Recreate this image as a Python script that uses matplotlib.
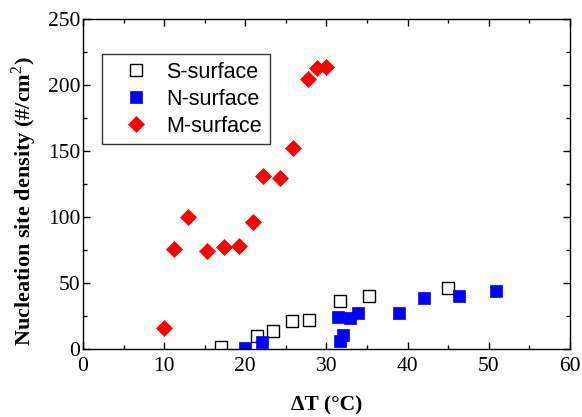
import numpy as np
import matplotlib.pyplot as plt

# S-surface
s_dt = [17.0, 21.5, 23.4, 25.8, 27.9, 31.7, 35.3, 45.0]
s_n = [1.7, 9.8, 13.9, 21.2, 22.0, 36.4, 40.2, 46.0]
# N-surface
n_dt = [19.95, 22.1, 31.65, 32.0, 31.4, 32.9, 33.9, 39.0, 42.0, 46.3, 50.9]
n_n = [1.0, 5.0, 6.3, 10.8, 24.2, 23.3, 27.0, 27.3, 39.0, 40.0, 44.0]
# M-surface
m_dt = [10.0, 11.2, 12.9, 15.3, 17.4, 19.2, 20.9, 22.2, 24.3, 25.9, 27.7, 28.9, 30.0]
m_n = [15.9, 75.8, 100.0, 74.2, 77.0, 78.0, 96.0, 131.0, 130.0, 152.0, 204.5, 213.0, 214.0]

serif = 'Liberation Serif'
sans = 'Liberation Sans'
plt.rcParams['mathtext.fontset'] = 'custom'
plt.rcParams['mathtext.rm'] = serif
plt.rcParams['mathtext.bf'] = serif + ':bold'

fig = plt.figure(figsize=(5.82, 4.17), dpi=100)
ax = fig.add_axes([0.1426, 0.163, 0.8364, 0.791])

ax.plot(s_dt, s_n, linestyle='none', marker='s', markersize=8.5,
        markerfacecolor='white', markeredgecolor='black', markeredgewidth=1.0,
        label='S-surface')
ax.plot(n_dt, n_n, linestyle='none', marker='s', markersize=8.5,
        markerfacecolor='blue', markeredgecolor='blue', markeredgewidth=0.5,
        label='N-surface')
ax.plot(m_dt, m_n, linestyle='none', marker='D', markersize=8,
        markerfacecolor='red', markeredgecolor='red', markeredgewidth=0.5,
        label='M-surface')

ax.set_xlim(0, 60)
ax.set_ylim(0, 250)
ax.set_xticks(np.arange(0, 61, 10))
ax.set_yticks(np.arange(0, 251, 50))
ax.set_xticks(np.arange(5, 60, 10), minor=True)
ax.set_yticks(np.arange(25, 250, 50), minor=True)
ax.tick_params(which='both', direction='in', top=True, right=True, width=1)
ax.tick_params(which='major', length=5, labelsize=15.5)
ax.tick_params(axis='x', which='major', pad=6)
ax.tick_params(axis='y', which='major', pad=2)
ax.tick_params(which='minor', length=3)
for lab in ax.get_xticklabels() + ax.get_yticklabels():
    lab.set_fontfamily(serif)
for sp in ax.spines.values():
    sp.set_linewidth(1.0)

ax.set_xlabel('ΔT (°C)', fontfamily=serif, fontweight='bold', fontsize=15.5, labelpad=14)
ax.set_ylabel('Nucleation site density (#/cm$^2$)', fontfamily=serif,
              fontweight='bold', fontsize=16)
ax.yaxis.set_label_coords(-0.09, 0.448)

leg = ax.legend(loc='upper left', bbox_to_anchor=(0.04, 0.893), frameon=True,
                fancybox=False, edgecolor='black', prop={'family': sans, 'size': 15.5},
                handletextpad=0.16, borderpad=0.35, labelspacing=0.27, handlelength=2.46,
                borderaxespad=0)
leg.get_frame().set_linewidth(1.0)

fig.savefig('out.png', dpi=100)
